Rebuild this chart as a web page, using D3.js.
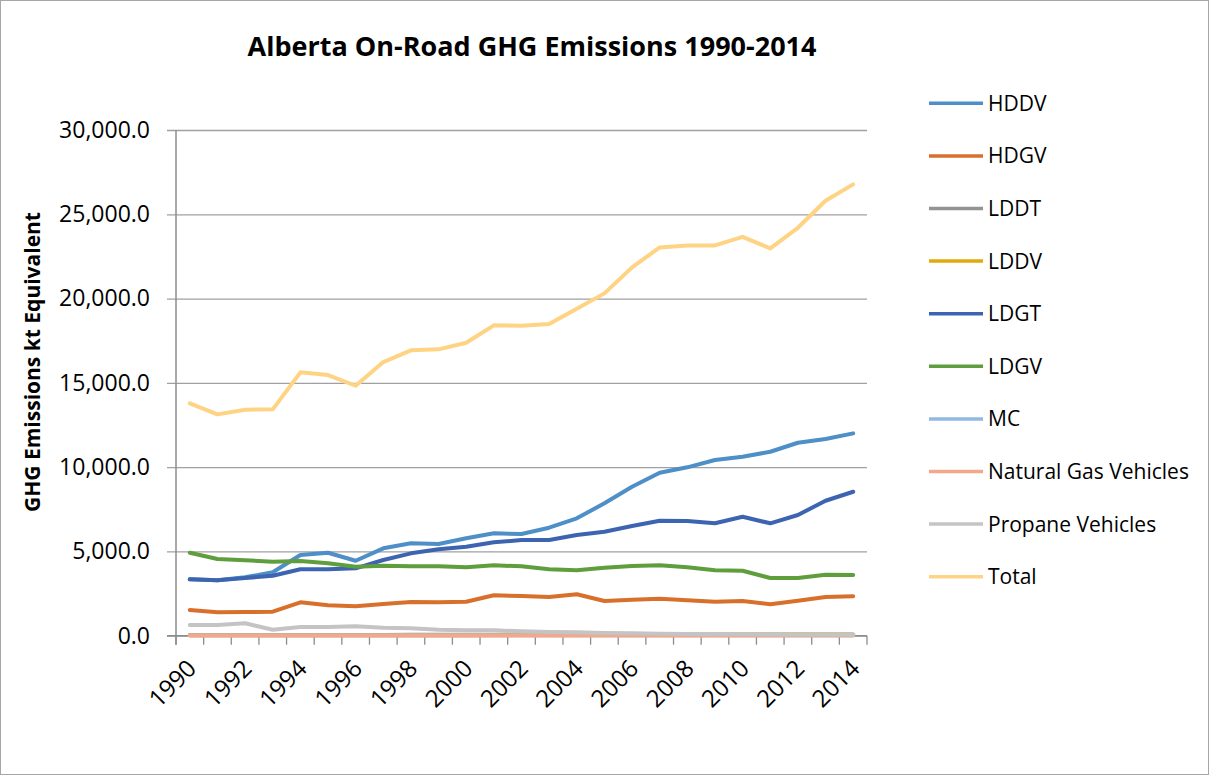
<!DOCTYPE html>
<html>
<head>
<meta charset="utf-8">
<script src="https://cdn.jsdelivr.net/npm/d3@7"></script>
<style>
  html, body { margin: 0; padding: 0; background: #fff; }
  svg { display: block; }
  text { font-family: "Open Sans", "Liberation Sans", sans-serif; fill: #000; }
</style>
</head>
<body>
<svg id="chart" width="1209" height="775"></svg>
<script>
const years = ["1990","1991","1992","1993","1994","1995","1996","1997","1998","1999","2000","2001","2002","2003","2004","2005","2006","2007","2008","2009","2010","2011","2012","2013","2014"];
const yTicks = [0, 5000, 10000, 15000, 20000, 25000, 30000];
const seriesNames = ["HDDV","HDGV","LDDT","LDDV","LDGT","LDGV","MC","Natural Gas Vehicles","Propane Vehicles","Total"];
const seriesColors = ["#4E8FC7","#D8702C","#939393","#E0AB0A","#3D64B0","#5F9E3C","#92B9E1","#F2A88A","#C4C4C4","#FFD384"];

const HDDV = [3345,3286,3464,3760,4786,4923,4448,5184,5480,5439,5777,6073,6032,6406,6963,7853,8837,9668,9988,10421,10617,10913,11447,11667,12005];
const HDGV = [1524,1388,1406,1423,1981,1803,1744,1880,1999,1981,2017,2396,2355,2295,2455,2058,2135,2195,2100,2017,2058,1862,2076,2295,2337];
const LDDT = [40,40,42,42,45,45,46,48,50,52,54,56,58,60,62,64,66,68,70,70,72,72,74,76,78];
const LDDV = [30,30,30,30,30,30,32,32,32,34,34,36,36,38,40,40,42,44,46,48,50,52,54,56,58];
const LDGT = [3345,3286,3420,3559,3938,3938,3997,4490,4887,5124,5279,5540,5676,5676,5973,6168,6506,6821,6801,6667,7058,6667,7159,8007,8541];
const LDGV = [4923,4549,4472,4389,4431,4294,4093,4152,4116,4116,4057,4176,4116,3938,3879,4033,4134,4176,4057,3879,3855,3422,3422,3618,3600];
const MC   = [20,20,20,20,22,22,22,24,24,24,26,26,28,28,30,30,30,32,32,32,32,32,34,34,34];
const NGV  = [15,15,15,15,14,14,14,13,13,12,12,12,11,11,10,10,10,10,10,10,10,10,10,10,10];
const Propane = [635,635,735,356,516,516,557,474,439,356,320,320,261,215,200,160,150,120,100,90,80,70,60,55,50];
const Total = [13784,13131,13404,13428,15623,15462,14828,16234,16927,16987,17378,18410,18386,18488,19395,20308,21850,23036,23155,23155,23665,22977,24199,25800,26773];

const seriesData = [HDDV, HDGV, LDDT, LDDV, LDGT, LDGV, MC, NGV, Propane, Total];

const svg = d3.select("#chart");
const W = 1209, H = 775;

// outer border
svg.append("rect").attr("x", 0.5).attr("y", 0.5).attr("width", W - 1).attr("height", H - 1)
  .attr("fill", "#fff").attr("stroke", "#A6A6A6").attr("stroke-width", 1);

const plot = { left: 176, right: 867, top: 130, bottom: 635.7 };

const x = d3.scaleBand().domain(years).range([plot.left, plot.right]).padding(0);
const y = d3.scaleLinear().domain([0, 30000]).range([plot.bottom, plot.top]);

// gridlines + y axis ticks
const yAxis = d3.axisLeft(y).tickValues(yTicks)
  .tickSize(-(plot.right - plot.left)).tickPadding(26)
  .tickFormat(d => d3.format(",.1f")(d));
const gy = svg.append("g").attr("transform", `translate(${plot.left},0)`).call(yAxis);
gy.select(".domain").remove();
gy.selectAll(".tick line").attr("stroke", "#A0A0A0").attr("stroke-width", 1.3).attr("x1", -9);
gy.selectAll(".tick text").attr("font-size", 23).attr("fill", "#000")
  .attr("font-family", "'Open Sans', sans-serif");

// y axis line
svg.append("line").attr("x1", plot.left).attr("x2", plot.left)
  .attr("y1", plot.top).attr("y2", plot.bottom + 9)
  .attr("stroke", "#8C8C8C").attr("stroke-width", 1.5);

// x axis labels
const xAxis = d3.axisBottom(x).tickSize(0).tickFormat(d => (+d % 2 === 0) ? d : "");
const gx = svg.append("g").attr("transform", `translate(0,${plot.bottom})`).call(xAxis);
gx.select(".domain").remove();
gx.selectAll(".tick text")
  .attr("font-size", 24)
  .attr("fill", "#000")
  .attr("text-anchor", "end")
  .attr("x", 0).attr("y", 0).attr("dy", 0)
  .attr("transform", `translate(8,${670 - plot.bottom}) rotate(-45)`);

svg.append("line").attr("x1", plot.left - 9).attr("x2", plot.right)
  .attr("y1", plot.bottom).attr("y2", plot.bottom)
  .attr("stroke", "#8C8C8C").attr("stroke-width", 1.5);
// category boundary ticks
const bounds = years.map(d => x(d)).concat([plot.right]);
svg.append("g").selectAll("line").data(bounds).join("line")
  .attr("x1", d => d).attr("x2", d => d)
  .attr("y1", plot.bottom).attr("y2", plot.bottom + 9)
  .attr("stroke", "#8C8C8C").attr("stroke-width", 1.3);

// lines
const line = d3.line()
  .x((d, i) => x(years[i]) + x.bandwidth() / 2)
  .y(d => y(d));
seriesData.forEach((s, k) => {
  svg.append("path").datum(s)
    .attr("d", line)
    .attr("fill", "none")
    .attr("stroke", seriesColors[k])
    .attr("stroke-width", 4)
    .attr("stroke-linejoin", "round")
    .attr("stroke-linecap", "round");
});

// title
svg.append("text").attr("x", 532).attr("y", 56)
  .attr("text-anchor", "middle").attr("font-size", 27).attr("font-weight", "bold")
  .text("Alberta On-Road GHG Emissions 1990-2014");

// y label
svg.append("text").attr("transform", "translate(40,362) rotate(-90)")
  .attr("text-anchor", "middle").attr("font-size", 21).attr("font-weight", "bold")
  .text("GHG Emissions kt Equivalent");

// legend
const lg = svg.append("g");
seriesNames.forEach((n, i) => {
  const yy = 103.3 + i * 52.6;
  lg.append("line").attr("x1", 929).attr("x2", 983).attr("y1", yy).attr("y2", yy)
    .attr("stroke", seriesColors[i]).attr("stroke-width", 3.5);
  lg.append("text").attr("x", 988).attr("y", yy).attr("dy", "0.36em")
    .attr("font-size", 21).text(n);
});
</script>
</body>
</html>
